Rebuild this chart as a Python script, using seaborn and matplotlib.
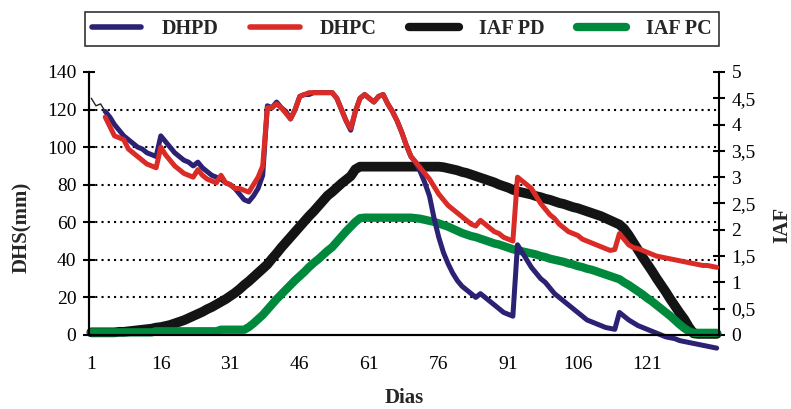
import numpy as np
import matplotlib
matplotlib.use("Agg")
import matplotlib.pyplot as plt
from matplotlib.lines import Line2D
from matplotlib.ticker import FixedLocator, FuncFormatter
import seaborn as sns

nan = np.nan

# Dias (eixo categorico 1..136)
dias = list(range(1, 137))
rotulos_x = [1, 16, 31, 46, 61, 76, 91, 106, 121]

# Primeiros dias (linha fina)
dias_inicio = [1, 2, 3, 4]
dhs_inicio = [126, 122, 123, 119]

# DHS (mm)
dhpd = [nan, nan, nan, 119, 116, 112, 109, 106, 104, 102,
        100, 99, 97, 96, 95, 106, 103, 100, 97, 95,
        93, 92, 90, 92, 89, 87, 85, 84, 83, 81,
        80, 78, 75, 72, 71, 74, 78, 85, 122, 121,
        124, 121, 119, 115, 120, 127, 128, 128, 129, 129,
        129, 129, 129, 126, 120, 114, 109, 119, 126, 128,
        126, 124, 127, 128, 123, 119, 114, 108, 101, 95,
        92, 87, 81, 74, 62, 52, 44, 38, 33, 29,
        26, 24, 22, 20, 22, 20, 18, 16, 14, 12,
        11, 10, 48, 44, 40, 36, 33, 30, 28, 25,
        22, 20, 18, 16, 14, 12, 10, 8, 7, 6,
        5, 4, 3.5, 3, 12, 10, 8, 6.5, 5, 4,
        3, 2, 1, 0, -1, -1.5, -2, -3, -3.5, -4,
        -4.5, -5, -5.5, -6, -6.5, -7]

dhpc = [nan, nan, nan, 116, 111, 106, 105, 104, 99, 97,
        95, 93, 91, 90, 89, 100, 96, 93, 90, 88,
        86, 85, 84, 88, 85, 83, 82, 81, 85, 81,
        80, 78, 78, 77, 76, 80, 84, 90, 121, 121,
        123, 121, 118, 115, 120, 127, 128, 129, 129, 129,
        129, 129, 129, 126, 120, 114, 110, 119, 126, 128,
        126, 124, 127, 128, 123, 119, 114, 108, 101, 95,
        92, 89, 86, 83, 79, 75, 72, 69, 67, 65,
        63, 61, 59, 58, 61, 59, 57, 55, 54, 52,
        51, 50, 84, 82, 80, 78, 74, 70, 67, 64,
        62, 59, 57, 55, 54, 53, 51, 50, 49, 48,
        47, 46, 45, 45.5, 54, 51, 48, 46.5, 46, 45,
        44, 43, 42, 41.5, 41, 40.5, 40, 39.5, 39, 38.5,
        38, 37.5, 37, 37, 36.5, 36]

# IAF
iaf_pd = [0.05, 0.05, 0.05, 0.05, 0.05, 0.05, 0.06, 0.06, 0.07, 0.08,
          0.09, 0.10, 0.11, 0.12, 0.14, 0.15, 0.17, 0.19, 0.22, 0.25,
          0.28, 0.32, 0.36, 0.40, 0.44, 0.49, 0.53, 0.58, 0.63, 0.68,
          0.74, 0.80, 0.87, 0.95, 1.02, 1.10, 1.18, 1.26, 1.34, 1.45,
          1.55, 1.66, 1.76, 1.86, 1.96, 2.06, 2.16, 2.26, 2.35, 2.45,
          2.55, 2.65, 2.72, 2.80, 2.88, 2.95, 3.02, 3.15, 3.20, 3.20,
          3.20, 3.20, 3.20, 3.20, 3.20, 3.20, 3.20, 3.20, 3.20, 3.20,
          3.20, 3.20, 3.20, 3.20, 3.20, 3.20, 3.19, 3.17, 3.15, 3.13,
          3.10, 3.08, 3.05, 3.02, 2.99, 2.96, 2.93, 2.90, 2.86, 2.83,
          2.80, 2.76, 2.73, 2.71, 2.69, 2.67, 2.64, 2.62, 2.59, 2.57,
          2.54, 2.51, 2.49, 2.46, 2.43, 2.41, 2.38, 2.35, 2.32, 2.29,
          2.26, 2.22, 2.18, 2.14, 2.10, 2.02, 1.90, 1.76, 1.62, 1.48,
          1.35, 1.22, 1.08, 0.95, 0.82, 0.68, 0.55, 0.42, 0.30, 0.15,
          0.03, 0.02, 0.02, 0.02, 0.02, 0.02]

iaf_pc = [0.05, 0.05, 0.05, 0.05, 0.05, 0.05, 0.05, 0.05, 0.05, 0.05,
          0.05, 0.05, 0.05, 0.05, 0.07, 0.07, 0.07, 0.07, 0.07, 0.07,
          0.07, 0.07, 0.07, 0.07, 0.07, 0.07, 0.07, 0.07, 0.10, 0.10,
          0.10, 0.10, 0.10, 0.10, 0.15, 0.22, 0.30, 0.38, 0.48, 0.58,
          0.68, 0.77, 0.86, 0.95, 1.04, 1.12, 1.20, 1.29, 1.37, 1.44,
          1.52, 1.60, 1.67, 1.77, 1.87, 1.97, 2.06, 2.15, 2.22, 2.23,
          2.23, 2.23, 2.23, 2.23, 2.23, 2.23, 2.23, 2.23, 2.23, 2.23,
          2.22, 2.21, 2.19, 2.17, 2.15, 2.12, 2.09, 2.06, 2.02, 1.98,
          1.94, 1.91, 1.88, 1.86, 1.83, 1.80, 1.77, 1.74, 1.72, 1.69,
          1.66, 1.63, 1.61, 1.59, 1.57, 1.55, 1.53, 1.50, 1.48, 1.45,
          1.43, 1.41, 1.39, 1.36, 1.34, 1.31, 1.29, 1.26, 1.24, 1.21,
          1.18, 1.15, 1.12, 1.09, 1.06, 1.00, 0.95, 0.89, 0.83, 0.77,
          0.70, 0.64, 0.57, 0.50, 0.43, 0.36, 0.28, 0.20, 0.13, 0.07,
          0.04, 0.04, 0.04, 0.04, 0.04, 0.04]

grade_dhs = [20, 40, 60, 80, 100, 120, 140]

cor_pd = "#2b2274"
cor_pc = "#db2b27"
cor_iaf_pd = "#141414"
cor_iaf_pc = "#00883c"

sns.set_style("white")
plt.rcParams["font.family"] = ["Liberation Serif", "DejaVu Serif"]

fig, ax = plt.subplots(figsize=(7.91, 4.09), dpi=100)
fig.subplots_adjust(left=0.1125, right=0.909, bottom=0.181, top=0.824)
ax2 = ax.twinx()
ax.set_zorder(ax2.get_zorder() + 1)
ax.patch.set_visible(False)

# IAF no eixo secundario (por baixo)
sns.lineplot(x=dias, y=iaf_pd, ax=ax2, color=cor_iaf_pd, lw=7,
             legend=False, clip_on=False)
sns.lineplot(x=dias, y=iaf_pc, ax=ax2, color=cor_iaf_pc, lw=6,
             legend=False, clip_on=False)

# DHS no eixo principal
sns.lineplot(x=dias_inicio, y=dhs_inicio, ax=ax, color="#222222", lw=1,
             legend=False, clip_on=False)
sns.lineplot(x=dias, y=dhpd, ax=ax, color=cor_pd, lw=3.6,
             legend=False, clip_on=False)
sns.lineplot(x=dias, y=dhpc, ax=ax, color=cor_pc, lw=3.6,
             legend=False, clip_on=False)

ax.set_xlim(0.5, 136.5)
ax.set_ylim(0, 140)
ax2.set_ylim(0, 5)

ax.set_xticks(rotulos_x)
ax.set_xticklabels([str(d) for d in rotulos_x])
ax.xaxis.set_minor_locator(FixedLocator(np.arange(0.5, 137, 1)))
ax.tick_params(axis="x", which="major", length=0, pad=15, labelsize=14,
               colors="black")
ax.tick_params(axis="x", which="minor", length=6, width=1.2,
               direction="out", color="black")

ax.set_yticks(np.arange(0, 141, 20))
ax.tick_params(axis="y", length=8, width=1.5, direction="inout", pad=5,
               labelsize=14, colors="black")

ax2.set_yticks(np.arange(0, 5.01, 0.5))
ax2.yaxis.set_major_formatter(
    FuncFormatter(lambda v, p: ("%g" % v).replace(".", ",")))
ax2.tick_params(axis="y", which="major", length=8, width=1.5,
                direction="inout", pad=5, labelsize=14, colors="black")

# linhas de grade pontilhadas (na altura das marcas do eixo DHS)
escala = ax2.get_ylim()[1] / ax.get_ylim()[1]
ax2.yaxis.set_minor_locator(FixedLocator([g * escala for g in grade_dhs]))
ax2.tick_params(axis="y", which="minor", length=0)
ax.grid(False)
ax2.grid(False)
ax2.grid(True, which="minor", axis="y", color="black",
         linestyle=(0, (1, 2)), lw=1.5)

for a in (ax, ax2):
    a.spines["top"].set_visible(False)
    for s in a.spines.values():
        s.set_color("black")
        s.set_linewidth(1.5)
ax.spines["right"].set_visible(False)

ax.set_ylabel("DHS(mm)", fontsize=15, fontweight="bold", va="center")
ax.yaxis.set_label_coords(-0.1056, 0.409)
ax2.set_ylabel("IAF", fontsize=15, fontweight="bold", rotation=90,
               va="center")
ax2.yaxis.set_label_coords(1.1, 0.418)
ax.set_xlabel("Dias", fontsize=15, fontweight="bold", va="center")
ax.xaxis.set_label_coords(0.5, -0.238)

handles = [Line2D([], [], color=cor_pd, lw=4),
           Line2D([], [], color=cor_pc, lw=4),
           Line2D([], [], color=cor_iaf_pd, lw=6),
           Line2D([], [], color=cor_iaf_pc, lw=6)]
leg = fig.legend(handles, ["DHPD", "DHPC", "IAF PD", "IAF PC"],
                 loc="center", bbox_to_anchor=(0.508, 0.928), ncol=4,
                 frameon=True, fancybox=False, edgecolor="black",
                 prop={"weight": "bold", "size": 14.5},
                 handlelength=2.45, handletextpad=1.0, columnspacing=1.6,
                 borderpad=0.35)
leg.get_frame().set_linewidth(1.2)

fig.savefig("out.png", dpi=100)
